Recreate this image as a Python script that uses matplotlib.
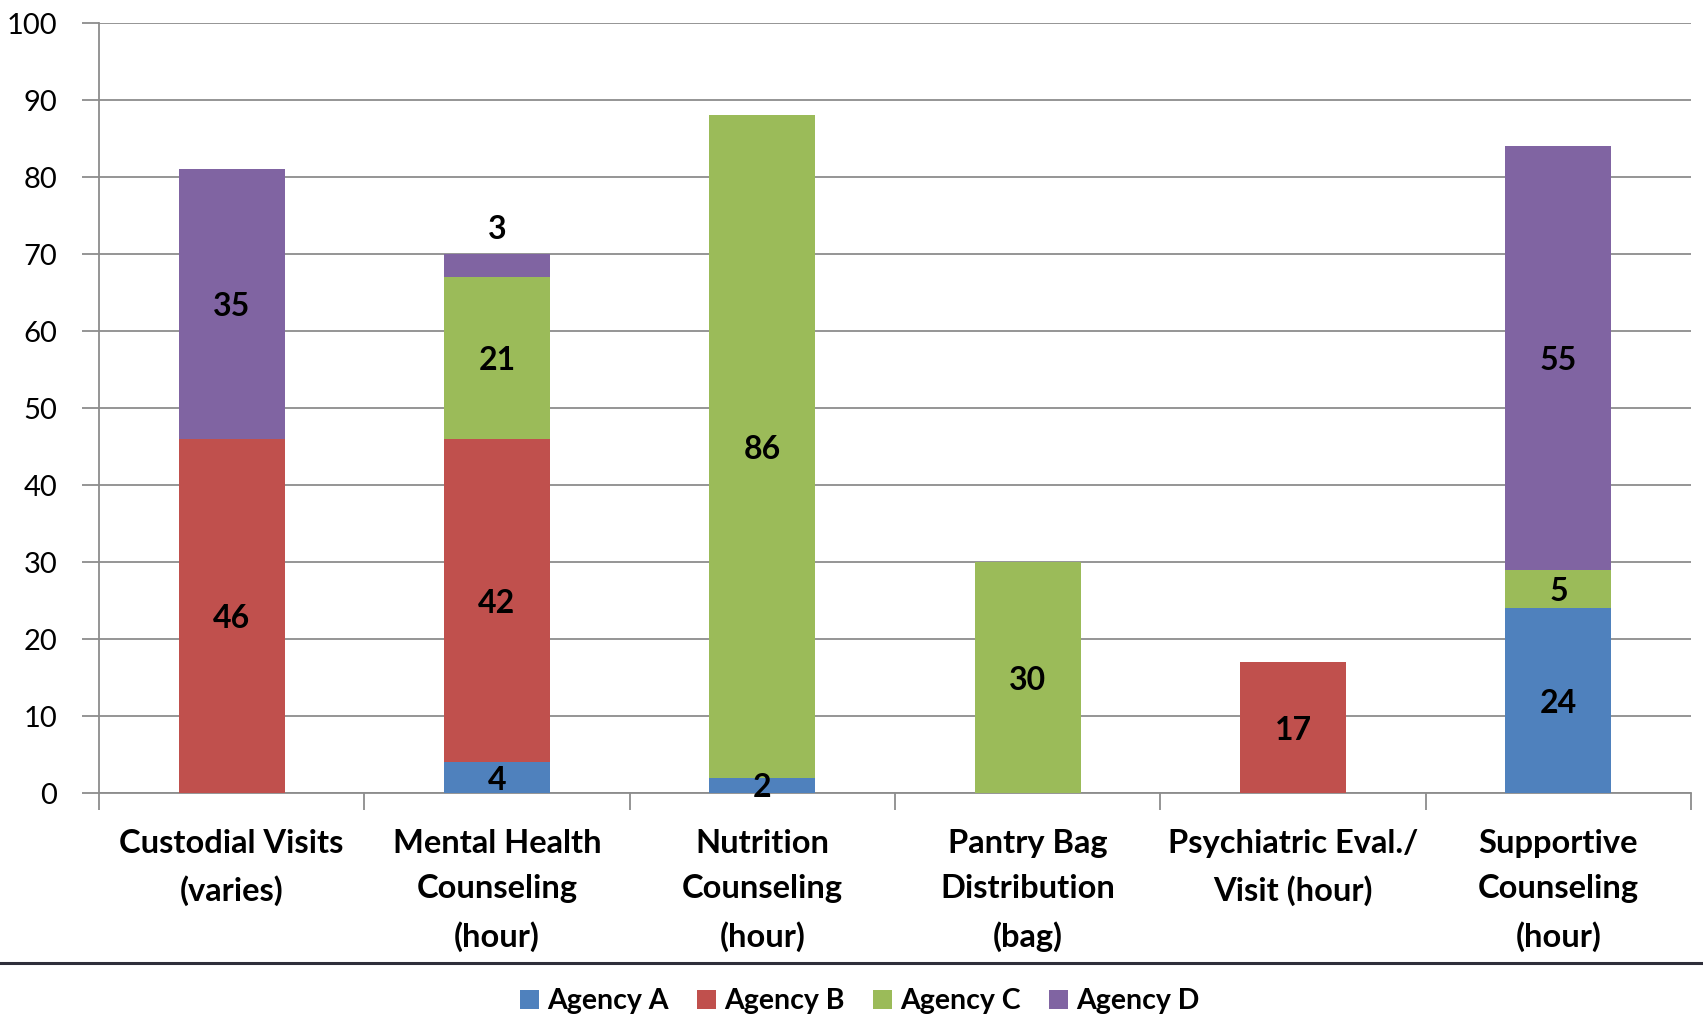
import numpy as np
import matplotlib.pyplot as plt
from matplotlib.lines import Line2D

categories = ['Custodial Visits\n(varies)', 'Mental Health\nCounseling\n(hour)',
              'Nutrition\nCounseling\n(hour)', 'Pantry Bag\nDistribution\n(bag)',
              'Psychiatric Eval./\nVisit (hour)', 'Supportive\nCounseling\n(hour)']
agency_a = [0, 4, 2, 0, 0, 24]
agency_b = [46, 42, 0, 0, 17, 0]
agency_c = [0, 21, 86, 30, 0, 5]
agency_d = [35, 3, 0, 0, 0, 55]
series_names = ['Agency A', 'Agency B', 'Agency C', 'Agency D']
colors = ['#4F81BD', '#C0504D', '#9BBB59', '#8064A2']

plt.rcParams['font.family'] = ['Lato', 'DejaVu Sans']

fig = plt.figure(figsize=(17.03, 10.15), dpi=100)
ax = fig.add_axes([0.0581, 0.2187, 0.9349, 0.7586])

x = np.arange(len(categories))
bottom = np.zeros(len(categories))
for name, vals, col in zip(series_names, [agency_a, agency_b, agency_c, agency_d], colors):
    vals = np.array(vals, dtype=float)
    ax.bar(x, vals, 0.4, bottom=bottom, color=col, label=name, zorder=3)
    for i, v in enumerate(vals):
        if v <= 0:
            continue
        top_total = agency_a[i] + agency_b[i] + agency_c[i] + agency_d[i]
        if v <= 3 and bottom[i] + v == top_total:
            # small top segment: label sits above the bar
            ypos = bottom[i] + v + 3.5
        else:
            ypos = bottom[i] + v / 2
        ax.text(x[i], ypos, str(int(v)), ha='center', va='center_baseline',
                fontsize=23, fontweight='bold', color='black', zorder=4)
    bottom += vals

ax.set_xlim(-0.5, len(categories) - 0.5)
ax.set_ylim(0, 100)
ax.set_yticks(np.arange(0, 101, 10))
ax.yaxis.grid(True, color='#8c8c8c', linewidth=1.3, zorder=0)
ax.set_axisbelow(True)

ax.set_xticks(x)
ax.set_xticklabels(categories, fontsize=23.5, fontweight='bold', linespacing=1.68)
ax.tick_params(axis='x', length=0, pad=26)
ax.set_xticks(np.arange(-0.5, len(categories)), minor=True)
ax.tick_params(axis='x', which='minor', length=12, width=1.3, color='#8c8c8c', direction='out')
ax.tick_params(axis='y', labelsize=21, length=12, width=1.3, color='#8c8c8c', pad=18)

for s in ['top', 'right']:
    ax.spines[s].set_visible(False)
ax.spines['left'].set_color('#8c8c8c')
ax.spines['left'].set_linewidth(1.3)
ax.spines['bottom'].set_color('#8c8c8c')
ax.spines['bottom'].set_linewidth(1.3)

fig.add_artist(Line2D([0, 1], [0.0512, 0.0512], transform=fig.transFigure,
                      color='#2e2e3a', linewidth=2.2))

fig.legend(loc='center', bbox_to_anchor=(0.505, 0.0135), ncol=4, frameon=False,
           prop={'size': 20.5, 'weight': 'bold'}, handlelength=0.65, handleheight=0.65,
           handletextpad=0.3, columnspacing=1.0)

fig.savefig('out.png', dpi=100)
